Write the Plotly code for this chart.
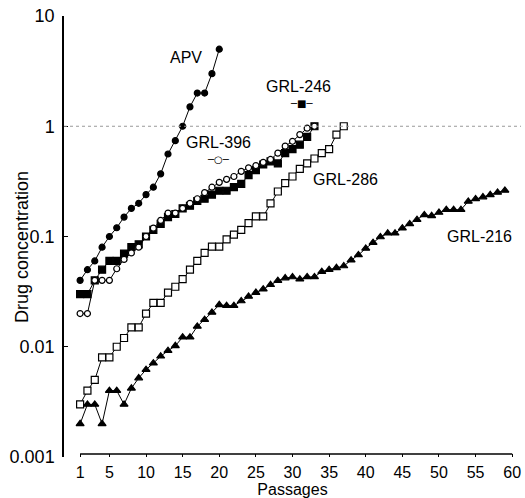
import math
import plotly.graph_objects as go

# drug concentration per passage
apv = [0.04, 0.05, 0.06, 0.08, 0.1, 0.12, 0.15, 0.18, 0.2, 0.24,
       0.28, 0.37, 0.56, 0.74, 1.0, 1.5, 2.0, 2.0, 3.0, 5.0]
grl246 = [0.03, 0.03, 0.04, 0.05, 0.06, 0.06, 0.07, 0.08, 0.085, 0.1,
          0.115, 0.13, 0.15, 0.16, 0.18, 0.19, 0.21, 0.22, 0.24, 0.26,
          0.26, 0.28, 0.3, 0.36, 0.4, 0.45, 0.48, 0.46, 0.57, 0.62,
          0.68, 0.8, 1.0]
grl396 = [0.02, 0.02, 0.04, 0.04, 0.04, 0.051, 0.062, 0.071, 0.08, 0.1,
          0.119, 0.14, 0.163, 0.163, 0.18, 0.2, 0.22, 0.25, 0.28, 0.31,
          0.33, 0.35, 0.39, 0.42, 0.44, 0.47, 0.5, 0.57, 0.66, 0.73,
          0.84, 0.96, 1.0]
grl286 = [0.003, 0.004, 0.005, 0.008, 0.008, 0.01, 0.012, 0.015, 0.015, 0.02,
          0.025, 0.025, 0.031, 0.035, 0.041, 0.05, 0.06, 0.071, 0.081, 0.081,
          0.094, 0.104, 0.115, 0.132, 0.152, 0.152, 0.2, 0.256, 0.305, 0.35,
          0.41, 0.46, 0.51, 0.57, 0.62, 0.84, 1.0]
grl216 = [0.002, 0.003, 0.003, 0.002, 0.004, 0.004, 0.003, 0.0042, 0.0052, 0.0062,
          0.0071, 0.0082, 0.0092, 0.0102, 0.0122, 0.0122, 0.0153, 0.0176, 0.0205, 0.024,
          0.0236, 0.0236, 0.026, 0.0286, 0.031, 0.0333, 0.0365, 0.0397, 0.042, 0.0429,
          0.041, 0.043, 0.043, 0.048, 0.05, 0.052, 0.054, 0.061, 0.068, 0.078,
          0.088, 0.099, 0.107, 0.107, 0.119, 0.13, 0.142, 0.157, 0.154, 0.165,
          0.175, 0.175, 0.175, 0.208, 0.219, 0.228, 0.239, 0.251, 0.262]

x_ticks = [1, 5, 10, 15, 20, 25, 30, 35, 40, 45, 50, 55, 60]
y_ticks = [0.001, 0.01, 0.1, 1, 10]
y_labels = ["0.001", "0.01", "0.1", "1", "10"]

FONT = "Liberation Sans, Arial, sans-serif"

# name, values, symbol, size, fill (white fill = open marker hiding the line)
series = [
    ("APV", apv, "circle", 6, "black"),
    ("GRL-246", grl246, "square", 7, "black"),
    ("GRL-396", grl396, "circle", 6, "white"),
    ("GRL-286", grl286, "square", 7, "white"),
    ("GRL-216", grl216, "triangle-up", 7, "black"),
]

fig = go.Figure()
for name, vals, sym, size, fill in series:
    fig.add_trace(go.Scatter(
        x=list(range(1, len(vals) + 1)),
        y=vals,
        mode="lines+markers",
        name=name,
        line=dict(color="black", width=1),
        marker=dict(symbol=sym, size=size, color=fill,
                    line=dict(color="black", width=1.2)),
        showlegend=False,
    ))

# dotted reference line at 1
fig.add_shape(type="line", xref="paper", x0=0, x1=1, yref="y", y0=1, y1=1,
              line=dict(color="#999", width=1, dash="dot"))
# x axis baseline from first to last passage
fig.add_shape(type="line", xref="x", x0=x_ticks[0], x1=x_ticks[-1],
              yref="paper", y0=0.007, y1=0.007,
              line=dict(color="black", width=1.5))

# series labels (x in passages, y in concentration)
labels = [
    ("APV", 15.5, 4.2),
    ("GRL-246", 30.8, 2.28),
    ("GRL-396", 19.85, 0.71),
    ("GRL-286", 37.2, 0.33),
    ("GRL-216", 55.6, 0.1),
]
for txt, lx, ly in labels:
    fig.add_annotation(x=lx, y=math.log10(ly), text=txt, showarrow=False,
                       font=dict(size=16, family=FONT, color="black"),
                       xanchor="center", yanchor="middle")

# little keys under the GRL-246 / GRL-396 labels
fig.add_annotation(x=31.2, y=math.log10(1.6), text="─■─", showarrow=False,
                   font=dict(size=10, family="DejaVu Sans", color="black"))
fig.add_annotation(x=19.85, y=math.log10(0.5), text="─○─", showarrow=False,
                   font=dict(size=10, family="DejaVu Sans", color="black"))

# y axis title sits close to the tick labels, as in the original
fig.add_annotation(xref="paper", yref="paper", x=-0.092, y=0.476,
                   xanchor="center", yanchor="middle",
                   text="Drug concentration", textangle=-90, showarrow=False,
                   font=dict(size=18, family=FONT, color="black"))

fig.update_xaxes(
    range=[-1.2, 61.2], tickvals=x_ticks, ticks="inside", ticklen=3,
    tickcolor="black", showline=False, showgrid=False, zeroline=False,
    automargin=False, ticklabelstandoff=4,
    tickfont=dict(size=16, family=FONT, color="black"),
    title=dict(text="Passages", font=dict(size=16, family=FONT, color="black"),
               standoff=0),
)
fig.update_yaxes(
    type="log", range=[-3, 1], tickvals=y_ticks, ticktext=y_labels,
    ticks="inside", ticklen=4, tickcolor="black",
    showline=True, linecolor="black", linewidth=1.5,
    showgrid=False, zeroline=False, automargin=False, ticklabelstandoff=4,
    tickfont=dict(size=18, family=FONT, color="black"),
)
fig.update_layout(
    width=525, height=498,
    margin=dict(l=64, r=4, t=16, b=41),
    plot_bgcolor="white", paper_bgcolor="white",
)

fig.write_html("out.html", config={"displayModeBar": False},
               post_script="document.body.style.margin='0';")
